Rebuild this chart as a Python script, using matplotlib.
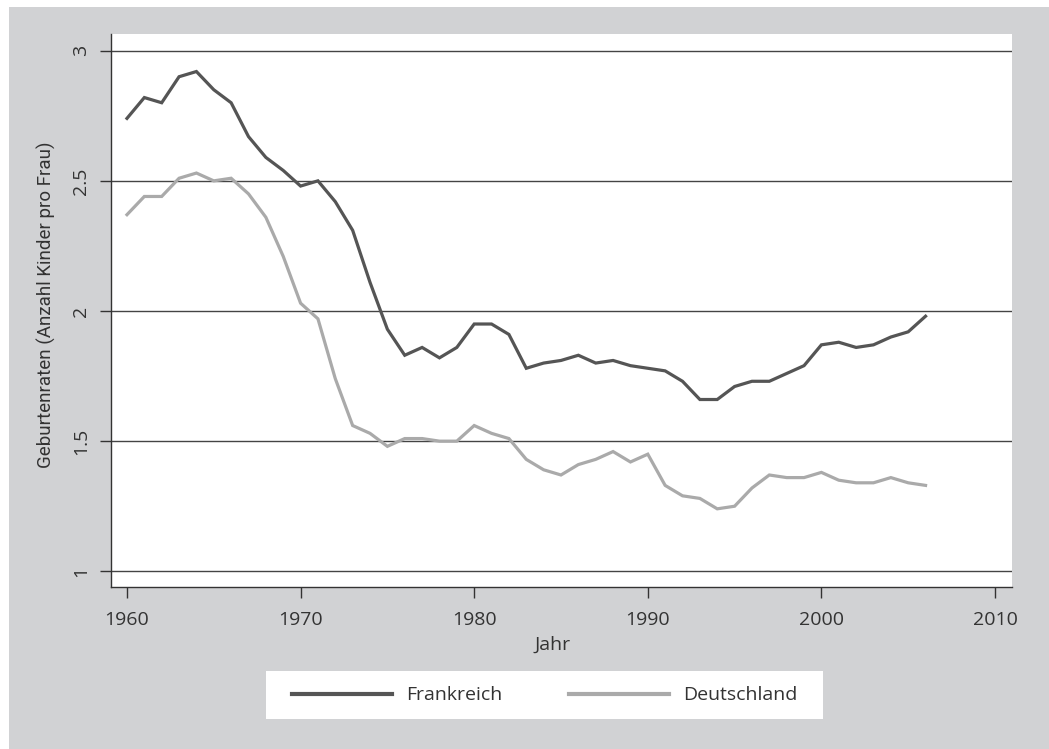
import matplotlib
matplotlib.use("Agg")
import matplotlib.pyplot as plt
from matplotlib.patches import Rectangle
from matplotlib.lines import Line2D

years = list(range(1960, 2007))
frankreich = [2.74, 2.82, 2.80, 2.90, 2.92, 2.85, 2.80, 2.67, 2.59, 2.54,
              2.48, 2.50, 2.42, 2.31, 2.11, 1.93, 1.83, 1.86, 1.82, 1.86,
              1.95, 1.95, 1.91, 1.78, 1.80, 1.81, 1.83, 1.80, 1.81, 1.79,
              1.78, 1.77, 1.73, 1.66, 1.66, 1.71, 1.73, 1.73, 1.76, 1.79,
              1.87, 1.88, 1.86, 1.87, 1.90, 1.92, 1.98]
deutschland = [2.37, 2.44, 2.44, 2.51, 2.53, 2.50, 2.51, 2.45, 2.36, 2.21,
               2.03, 1.97, 1.74, 1.56, 1.53, 1.48, 1.51, 1.51, 1.50, 1.50,
               1.56, 1.53, 1.51, 1.43, 1.39, 1.37, 1.41, 1.43, 1.46, 1.42,
               1.45, 1.33, 1.29, 1.28, 1.24, 1.25, 1.32, 1.37, 1.36, 1.36,
               1.38, 1.35, 1.34, 1.34, 1.36, 1.34, 1.33]
x_ticks = [1960, 1970, 1980, 1990, 2000, 2010]
y_ticks = [1, 1.5, 2, 2.5, 3]
y_labels = ["1", "1.5", "2", "2.5", "3"]

W, H = 1049, 749
BG = "#d1d2d4"
TXT = "#333333"
FS = 14

plt.rcParams["font.family"] = ["Open Sans", "DejaVu Sans"]

fig = plt.figure(figsize=(W / 100, H / 100), dpi=100)
fig.patch.set_facecolor("white")
# grey panel behind everything
fig.patches.append(Rectangle((9 / W, 0), 1, 1 - 7 / H, transform=fig.transFigure,
                             facecolor=BG, edgecolor="none", zorder=-10))

ax = fig.add_axes([111 / W, 1 - 587 / H, 900.5 / W, (587 - 34.3) / H])
ax.set_zorder(1)
ax.set_facecolor("white")

ax.plot(years, frankreich, color="#555555", lw=2.3, solid_joinstyle="miter", zorder=3)
ax.plot(years, deutschland, color="#aaaaaa", lw=2.3, solid_joinstyle="miter", zorder=3)

ax.set_xlim(1959.08, 2010.95)
ax.set_ylim(0.9397, 3.063)
ax.set_xticks(x_ticks)
ax.set_yticks(y_ticks)
ax.set_yticklabels(y_labels, rotation=90, va="center")
for y in y_ticks:
    ax.axhline(y, color="#444444", lw=1.0, zorder=2)

for s in ["top", "right"]:
    ax.spines[s].set_visible(False)
for s in ["left", "bottom"]:
    ax.spines[s].set_color("#333333")
    ax.spines[s].set_linewidth(1.0)

ax.tick_params(axis="both", direction="out", length=8, width=1.0, color="#333333",
               labelsize=FS, labelcolor=TXT)
ax.tick_params(axis="y", pad=7)
ax.tick_params(axis="x", pad=9)

ax.set_ylabel("Geburtenraten (Anzahl Kinder pro Frau)", fontsize=13.5, color=TXT,
              family=["Roboto", "DejaVu Sans"])
ax.set_xlabel("Jahr", fontsize=FS, color=TXT)
ax.xaxis.set_label_coords((553 - 111) / 900.5, -(645.7 - 587 - 10) / (587 - 34.3))
ax.yaxis.set_label_coords(-(111 - 46 - 10) / 900.5, 0.51)

# legend box
fig.patches.append(Rectangle((266 / W, 1 - 719.3 / H), (823 - 266) / W, 48.3 / H,
                             transform=fig.transFigure, facecolor="white",
                             edgecolor="none", zorder=-5))
handles = [Line2D([], [], color="#555555", lw=3),
           Line2D([], [], color="#aaaaaa", lw=3)]
fig.legend(handles, ["Frankreich", "Deutschland"], loc="center",
           bbox_to_anchor=(544.5 / W, 1 - 695.5 / H), ncol=2, frameon=False,
           fontsize=FS, labelcolor=TXT, handlelength=5.15, handletextpad=0.72,
           columnspacing=3.45)

fig.savefig("out.png", dpi=100, facecolor=fig.get_facecolor())
